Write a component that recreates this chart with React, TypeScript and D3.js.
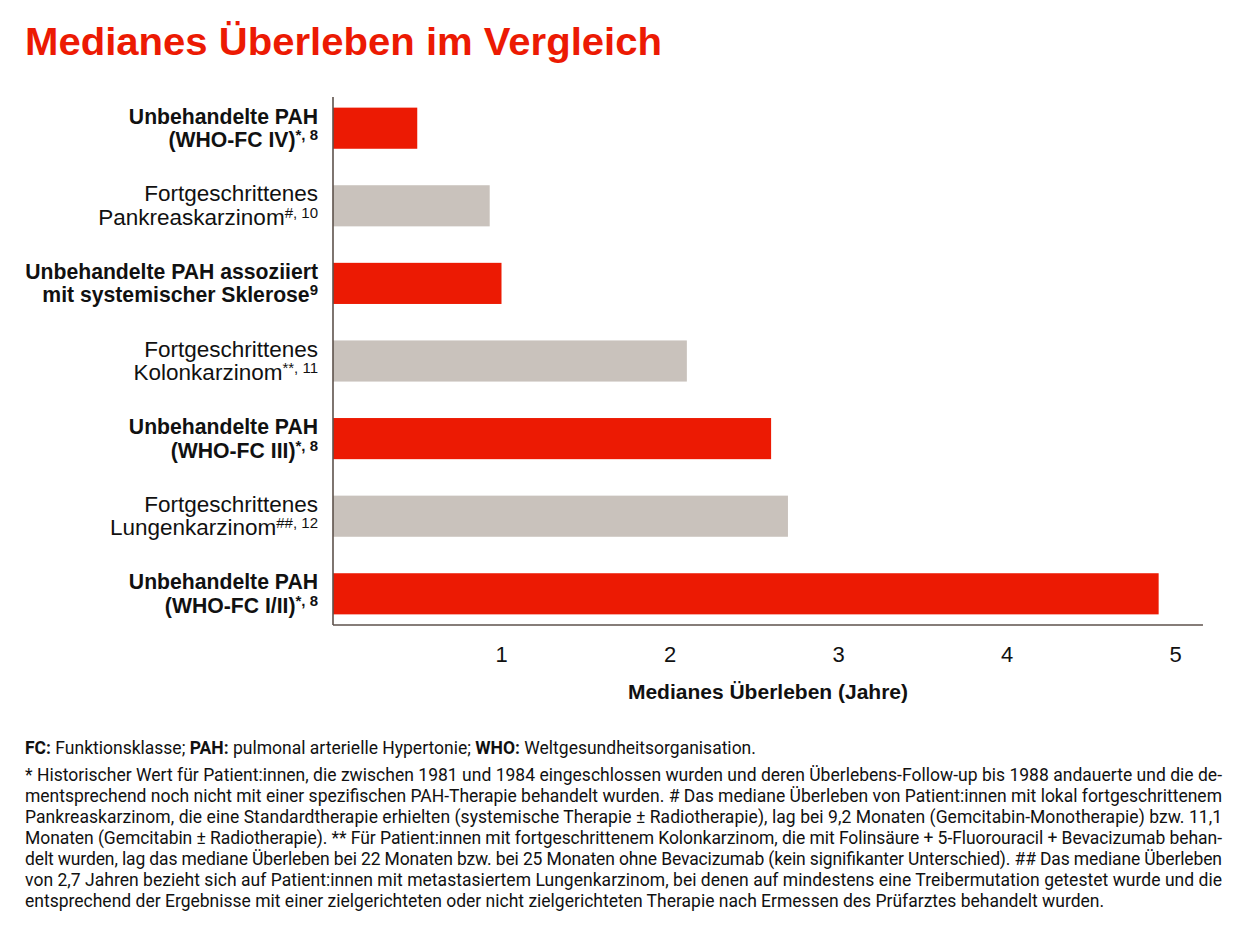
import * as d3 from 'd3';
import React from 'react';

// chart data
const labelLine1 = [
  'Unbehandelte PAH',
  'Fortgeschrittenes',
  'Unbehandelte PAH assoziiert',
  'Fortgeschrittenes',
  'Unbehandelte PAH',
  'Fortgeschrittenes',
  'Unbehandelte PAH',
];
const labelLine2 = [
  '(WHO-FC IV)',
  'Pankreaskarzinom',
  'mit systemischer Sklerose',
  'Kolonkarzinom',
  '(WHO-FC III)',
  'Lungenkarzinom',
  '(WHO-FC I/II)',
];
const labelRefs = ['*, 8', '#, 10', '9', '**, 11', '*, 8', '##, 12', '*, 8'];
const survivalYears = [0.5, 0.93, 1.0, 2.1, 2.6, 2.7, 4.9];
const isPah = [true, false, true, false, true, false, true];
const xTicks = [1, 2, 3, 4, 5];

const title = 'Medianes Überleben im Vergleich';
const xTitle = 'Medianes Überleben (Jahre)';

const abbreviations = [
  { b: 'FC:', t: ' Funktionsklasse; ' },
  { b: 'PAH:', t: ' pulmonal arterielle Hypertonie; ' },
  { b: 'WHO:', t: ' Weltgesundheitsorganisation.' },
];
const footnoteLines = [
  '* Historischer Wert für Patient:innen, die zwischen 1981 und 1984 eingeschlossen wurden und deren Überlebens-Follow-up bis 1988 andauerte und die de-',
  'mentsprechend noch nicht mit einer spezifischen PAH-Therapie behandelt wurden. # Das mediane Überleben von Patient:innen mit lokal fortgeschrittenem',
  'Pankreaskarzinom, die eine Standardtherapie erhielten (systemische Therapie ± Radiotherapie), lag bei 9,2 Monaten (Gemcitabin-Monotherapie) bzw. 11,1',
  'Monaten (Gemcitabin ± Radiotherapie). ** Für Patient:innen mit fortgeschrittenem Kolonkarzinom, die mit Folinsäure + 5-Fluorouracil + Bevacizumab behan-',
  'delt wurden, lag das mediane Überleben bei 22 Monaten bzw. bei 25 Monaten ohne Bevacizumab (kein signifikanter Unterschied). ## Das mediane Überleben',
  'von 2,7 Jahren bezieht sich auf Patient:innen mit metastasiertem Lungenkarzinom, bei denen auf mindestens eine Treibermutation getestet wurde und die',
  'entsprechend der Ergebnisse mit einer zielgerichteten oder nicht zielgerichteten Therapie nach Ermessen des Prüfarztes behandelt wurden.',
];

const RED = '#ec1a03';
const GREY = '#c9c2bc';
const AXIS = '#5e524c';
const SANS = '"Liberation Sans", Arial, sans-serif';
const NARROW = '"Liberation Sans Narrow", "Liberation Sans", sans-serif';
const NOTE = 'Roboto, "Liberation Sans", sans-serif';

export default function App() {
  const left = 333;
  const top = 97;
  const bottom = 625;
  const textLeft = 25;
  const textRight = 1222;

  const x = d3.scaleLinear().domain([0, 5]).range([left, 1175.5]);
  const axisEnd = x(5.163);
  const idx = survivalYears.map((_, i) => String(i));
  const y = d3
    .scaleBand<string>()
    .domain(idx)
    .range([top, bottom])
    .paddingInner(0.47)
    .paddingOuter(0.137);

  return (
    <svg width={1232} height={920} style={{ display: 'block', overflow: 'visible' }}>
      <g transform="translate(-8,-8)">
        <text
          x={textLeft}
          y={55}
          fill={RED}
          fontFamily={SANS}
          fontWeight={700}
          fontSize={39}
          textLength={637}
          lengthAdjust="spacingAndGlyphs"
        >
          {title}
        </text>

        {/* bars */}
        {idx.map((k, i) => (
          <rect
            key={k}
            x={x(0)}
            y={y(k)}
            width={x(survivalYears[i]) - x(0)}
            height={y.bandwidth()}
            fill={isPah[i] ? RED : GREY}
          />
        ))}

        {/* category labels */}
        {idx.map((k, i) => {
          const cy = (y(k) as number) + y.bandwidth() / 2;
          return (
            <text
              key={k}
              textAnchor="end"
              fontFamily={SANS}
              fontSize={isPah[i] ? 21.2 : 22.5}
              fontWeight={isPah[i] ? 700 : 400}
              fill="#111"
            >
              <tspan x={318} y={cy - 4.5}>
                {labelLine1[i]}
              </tspan>
              <tspan x={318} y={cy + 19}>
                {labelLine2[i]}
              </tspan>
              <tspan fontSize={15} dy={-7} fontWeight={isPah[i] ? 700 : 400}>
                {labelRefs[i]}
              </tspan>
            </text>
          );
        })}

        {/* axes */}
        <line x1={x(0)} x2={x(0)} y1={top} y2={bottom} stroke={AXIS} strokeWidth={1.6} />
        <line x1={x(0)} x2={axisEnd} y1={bottom} y2={bottom} stroke={AXIS} strokeWidth={1.6} />
        {xTicks.map((t) => (
          <text
            key={t}
            x={x(t)}
            y={662}
            textAnchor="middle"
            fontFamily={NARROW}
            fontSize={22}
            fill="#111"
          >
            {t}
          </text>
        ))}
        <text
          x={(x(0) + axisEnd) / 2}
          y={699}
          textAnchor="middle"
          fontFamily={NARROW}
          fontWeight={700}
          fontSize={21}
          fill="#111"
        >
          {xTitle}
        </text>

        {/* footnotes */}
        <text x={textLeft} y={754} fontFamily={NOTE} fontSize={17.5} fill="#111">
          {abbreviations.map((a) => (
            <React.Fragment key={a.b}>
              <tspan fontWeight={700}>{a.b}</tspan>
              <tspan>{a.t}</tspan>
            </React.Fragment>
          ))}
        </text>
        {footnoteLines.map((line, i) => {
          const last = i === footnoteLines.length - 1;
          return (
            <text
              key={i}
              x={textLeft}
              y={781 + i * 21}
              fontFamily={NOTE}
              fontSize={17.5}
              fill="#111"
              textLength={last ? undefined : textRight - textLeft}
              lengthAdjust={last ? undefined : 'spacing'}
              style={{ whiteSpace: 'pre' }}
            >
              {line}
            </text>
          );
        })}
      </g>
    </svg>
  );
}
